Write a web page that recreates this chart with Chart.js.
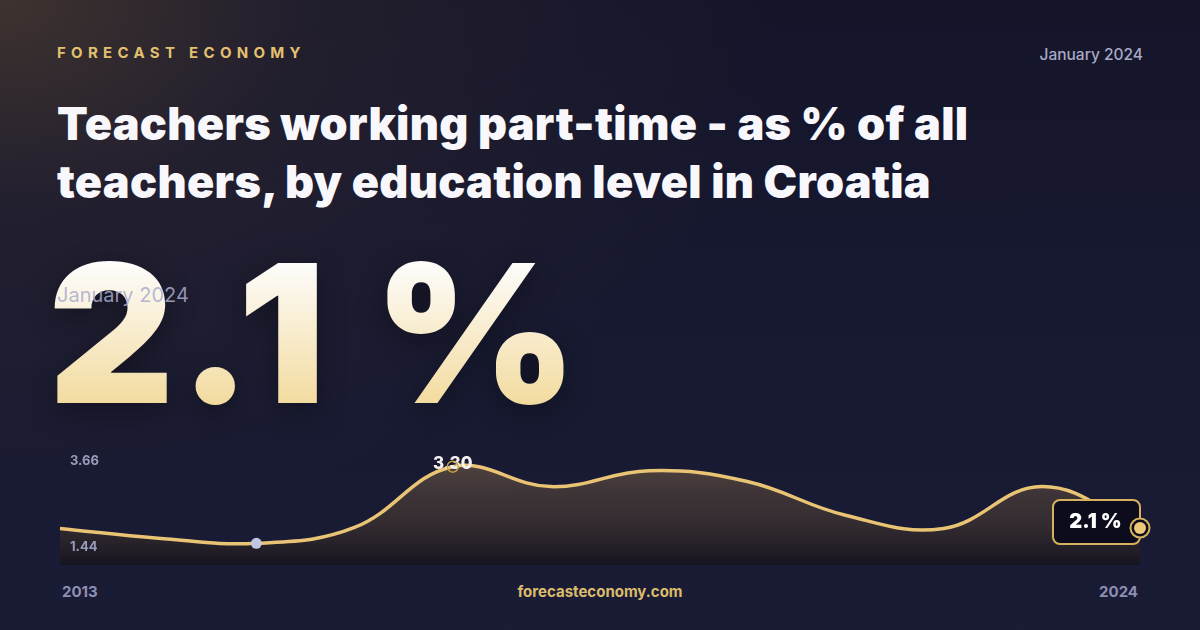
<!DOCTYPE html>
<html><head><meta charset="utf-8">
<script src="https://cdn.jsdelivr.net/npm/chart.js@4.4.1/dist/chart.umd.min.js"></script>
<style>
html,body{margin:0;padding:0;}
body{width:1200px;height:630px;overflow:hidden;position:relative;font-family:Inter,"Noto Sans",sans-serif;
background:
 radial-gradient(ellipse 780px 520px at 0px 0px, rgba(72,58,48,0.8) 0%, rgba(48,40,48,0.45) 40%, rgba(24,24,44,0) 100%),
 linear-gradient(180deg,#15152a 0%,#181a32 60%,#1a1b35 100%);}
.brand{position:absolute;left:57px;top:43px;font-size:15px;font-weight:700;letter-spacing:5.3px;color:#e2c070;}
.date{position:absolute;right:57px;top:45px;font-size:15.5px;font-weight:500;color:#a8aac6;}
.title{position:absolute;left:57px;top:95px;width:1100px;font-size:45px;line-height:58px;font-weight:900;color:#f8f8fc;letter-spacing:0.3px;}
.big{position:absolute;left:48px;top:218px;font-size:192px;line-height:230px;font-weight:900;letter-spacing:4px;
background:linear-gradient(180deg,#fdfcfa 20%,#f2d999 85%);-webkit-background-clip:text;background-clip:text;color:transparent;
transform-origin:left top;transform:scaleX(1.02);white-space:nowrap;filter:drop-shadow(0 8px 14px rgba(0,0,0,0.35));}
.sub{position:absolute;left:57px;top:283px;font-size:20px;font-weight:400;color:rgba(170,172,205,0.85);}
canvas{position:absolute;left:0;top:420px;}
.foot{position:absolute;top:582px;font-size:15px;font-weight:700;}
</style></head><body>
<div class="brand">FORECAST ECONOMY</div>
<div class="date">January 2024</div>
<div class="title">Teachers working part-time - as % of all<br>teachers, by education level in Croatia</div>
<div class="big">2.1 %</div>
<div class="sub">January 2024</div>
<canvas id="c" width="1200" height="160" style="width:1200px;height:160px"></canvas>
<div class="foot" style="left:62px;color:#8e90b2">2013</div>
<div class="foot" style="left:0;width:1200px;text-align:center;color:#dcbc6c">forecasteconomy.com</div>
<div class="foot" style="right:62px;color:#8e90b2">2024</div>
<script>
const years = ["2013","2014","2015","2016","2017","2018","2019","2020","2021","2022","2023","2024"];
const values = [2.09, 1.90, 1.80, 2.11, 3.30, 2.91, 3.22, 3.01, 2.35, 2.09, 2.91, 2.10];
const axisLabels = ["3.66", "1.44"];
const peakLabel = "3.30";
const lastLabel = "2.1 %";

const gold = "#e8c474";
const markers = {
  id: "markers",
  afterDatasetsDraw(chart) {
    const ctx = chart.ctx, xs = chart.scales.x, ys = chart.scales.y, a = chart.chartArea;
    ctx.save();
    ctx.font = "700 13px Inter";
    ctx.fillStyle = "#9a9cbc";
    ctx.textBaseline = "middle";
    ctx.textAlign = "left";
    ctx.fillText(axisLabels[0], a.left + 10, 461 - 420);
    ctx.fillText(axisLabels[1], a.left + 10, 547 - 420);
    let minI = 0, maxI = 0;
    values.forEach((v, i) => { if (v < values[minI]) minI = i; if (v > values[maxI]) maxI = i; });
    ctx.beginPath();
    ctx.arc(xs.getPixelForValue(minI), ys.getPixelForValue(values[minI]), 5.5, 0, Math.PI * 2);
    ctx.fillStyle = "#c2c6e0"; ctx.fill();
    const mx = xs.getPixelForValue(maxI), my = ys.getPixelForValue(values[maxI]);
    ctx.font = "800 17px Inter";
    ctx.fillStyle = "#f4f2f0"; ctx.textAlign = "center"; ctx.textBaseline = "alphabetic";
    ctx.fillText(peakLabel, mx, my + 2);
    ctx.beginPath(); ctx.arc(mx, my, 5.5, 0, Math.PI * 2);
    ctx.strokeStyle = "#c8a040"; ctx.lineWidth = 1.5; ctx.stroke();
    const li = values.length - 1;
    const lx = xs.getPixelForValue(li), ly = ys.getPixelForValue(values[li]);
    const bw = 87, bh = 44, bx = lx - bw, by = ly - 28;
    ctx.beginPath(); ctx.roundRect(bx, by, bw, bh, 7);
    ctx.fillStyle = "#0c0c1c"; ctx.fill();
    ctx.strokeStyle = "#d6b25e"; ctx.lineWidth = 2; ctx.stroke();
    ctx.font = "900 20px Inter"; ctx.fillStyle = "#ffffff"; ctx.textAlign = "center"; ctx.textBaseline = "middle";
    ctx.fillText(lastLabel, bx + bw / 2 - 1, by + bh / 2);
    ctx.beginPath(); ctx.arc(lx, ly, 9.5, 0, Math.PI * 2);
    ctx.fillStyle = "#0c0c1c"; ctx.fill();
    ctx.strokeStyle = "#d6b25e"; ctx.lineWidth = 2; ctx.stroke();
    ctx.beginPath(); ctx.arc(lx, ly, 6, 0, Math.PI * 2);
    ctx.fillStyle = "#ecc878"; ctx.fill();
    ctx.restore();
  }
};

new Chart(document.getElementById("c"), {
  type: "line",
  data: {
    labels: years,
    datasets: [{
      data: values,
      borderColor: gold,
      borderWidth: 3.5,
      tension: 0.4,
      pointRadius: 0,
      fill: "start",
      backgroundColor(c) {
        const a = c.chart.chartArea;
        if (!a) return "rgba(0,0,0,0)";
        const g = c.chart.ctx.createLinearGradient(0, a.top, 0, a.bottom);
        g.addColorStop(0, "rgba(150,120,80,0.55)");
        g.addColorStop(0.45, "rgba(90,72,58,0.55)");
        g.addColorStop(1, "rgba(22,20,30,0.9)");
        return g;
      }
    }]
  },
  options: {
    responsive: false,
    animation: false,
    layout: { padding: { left: 60, right: 60, top: 20, bottom: 15 } },
    plugins: { legend: { display: false }, tooltip: { enabled: false } },
    scales: {
      x: { display: false, offset: false },
      y: { display: false, min: 1.375, max: 3.823 }
    }
  },
  plugins: [markers]
});
</script>
</body></html>
